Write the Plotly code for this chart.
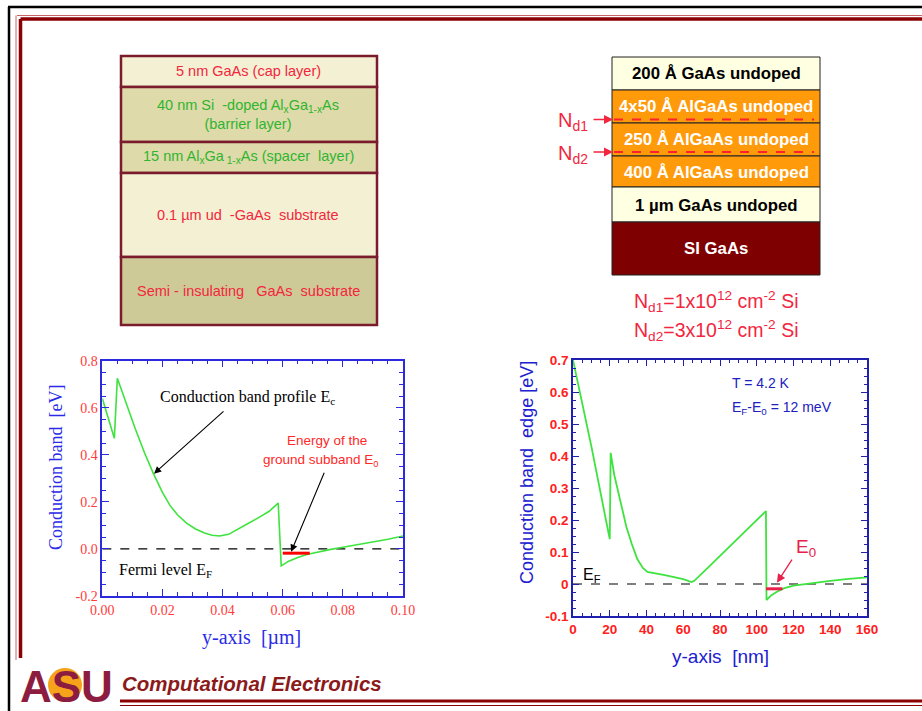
import plotly.graph_objects as go

W, H = 922, 711

# ---------------- data ----------------
# left plot: conduction band profile (x in um, E in eV)
left_x = [0.0, 0.004, 0.005, 0.008, 0.011, 0.014, 0.017, 0.020, 0.0225, 0.025, 0.028, 0.031,
          0.034, 0.0365, 0.039, 0.042, 0.045, 0.048, 0.052, 0.0555, 0.0585, 0.0595, 0.062,
          0.065, 0.068, 0.072, 0.076, 0.080, 0.085, 0.090, 0.095, 0.100]
left_y = [0.64, 0.47, 0.725, 0.615, 0.51, 0.41, 0.32, 0.24, 0.185, 0.145, 0.11, 0.085,
          0.068, 0.058, 0.055, 0.062, 0.082, 0.105, 0.133, 0.16, 0.195, -0.072, -0.052,
          -0.036, -0.024, -0.012, -0.002, 0.007, 0.018, 0.029, 0.041, 0.055]
left_fermi_x = [0.0, 0.10]
left_fermi_y = [0.0, 0.0]
left_e0_x = [0.0600, 0.0690]
left_e0_y = [-0.018, -0.018]
left_xticks = [0.0, 0.02, 0.04, 0.06, 0.08, 0.10]
left_xticktext = ["0.00", "0.02", "0.04", "0.06", "0.08", "0.10"]
left_yticks = [-0.2, 0.0, 0.2, 0.4, 0.6, 0.8]
left_yticktext = ["-0.2", "0.0", "0.2", "0.4", "0.6", "0.8"]

# right plot: conduction band edge (x in nm, E in eV)
right_x = [0, 10, 20, 20.5, 22.5, 25, 27, 29, 32, 35, 38, 40.5, 50, 60, 64.5, 66, 75, 85, 95,
           105, 105.3, 108, 111, 115, 120, 130, 140, 150, 160]
right_y = [0.70, 0.43, 0.14, 0.41, 0.34, 0.275, 0.225, 0.18, 0.125, 0.078, 0.05, 0.038, 0.028,
           0.015, 0.006, 0.01, 0.06, 0.115, 0.17, 0.228, -0.05, -0.035, -0.024, -0.013,
           -0.005, 0.003, 0.01, 0.016, 0.021]
right_fermi_x = [0, 160]
right_fermi_y = [0, 0]
right_e0_x = [105, 114]
right_e0_y = [-0.015, -0.015]
right_xticks = [0, 20, 40, 60, 80, 100, 120, 140, 160]
right_xticktext = ["0", "20", "40", "60", "80", "100", "120", "140", "160"]
right_yticks = [-0.1, 0, 0.1, 0.2, 0.3, 0.4, 0.5, 0.6, 0.7]
right_yticktext = ["-0.1", "0", "0.1", "0.2", "0.3", "0.4", "0.5", "0.6", "0.7"]

# layer stacks
left_layer_labels = [
    "5 nm GaAs (cap layer)",
    "40 nm Si  -doped Al<sub>x</sub>Ga<sub>1-x</sub>As<br>(barrier layer)",
    "15 nm Al<sub>x</sub>Ga<sub> 1-x</sub>As (spacer  layer)",
    "0.1 \u00b5m ud  -GaAs  substrate",
    "Semi - insulating   GaAs  substrate",
]
left_layer_fill = ["#F3F0D3", "#DEDAAA", "#DEDAAA", "#F3F0D3", "#CECA97"]
left_layer_text = ["#F2263E", "#2FB52F", "#2FB52F", "#F2263E", "#F2263E"]

right_layer_labels = [
    "200 \u00c5 GaAs undoped",
    "4x50 \u00c5 AlGaAs undoped",
    "250 \u00c5 AlGaAs undoped",
    "400 \u00c5 AlGaAs undoped",
    "1 \u00b5m GaAs undoped",
    "SI GaAs",
]
right_layer_fill = ["#FFFFE1", "#FF9A0A", "#FF9A0A", "#FF9A0A", "#FFFFE1", "#7E0000"]
right_layer_text = ["black", "white", "white", "white", "black", "white"]

# ---------------- layout geometry (pixels) ----------------
def px(x):
    return x / W

def py(y):
    return 1 - y / H

SERIF = "Liberation Serif"
SANS = "Liberation Sans"
BLUE_L = "#2B2BDD"
BLUE_R = "#2020B0"
RED_T = "#FF3B3B"
GREEN = "#3FE33F"

fig = go.Figure()

# traces, left plot
fig.add_trace(go.Scatter(x=left_fermi_x, y=left_fermi_y, mode="lines",
                         line=dict(color="black", width=1.2, dash="dash"),
                         xaxis="x", yaxis="y", showlegend=False))
fig.add_trace(go.Scatter(x=left_x, y=left_y, mode="lines",
                         line=dict(color=GREEN, width=1.6),
                         xaxis="x", yaxis="y", showlegend=False))
fig.add_trace(go.Scatter(x=left_e0_x, y=left_e0_y, mode="lines",
                         line=dict(color="#FF0000", width=3),
                         xaxis="x", yaxis="y", showlegend=False))
# traces, right plot
fig.add_trace(go.Scatter(x=right_fermi_x, y=right_fermi_y, mode="lines",
                         line=dict(color="black", width=1.2, dash="dash"),
                         xaxis="x2", yaxis="y2", showlegend=False))
fig.add_trace(go.Scatter(x=right_x, y=right_y, mode="lines",
                         line=dict(color=GREEN, width=1.8),
                         xaxis="x2", yaxis="y2", showlegend=False))
fig.add_trace(go.Scatter(x=right_e0_x, y=right_e0_y, mode="lines",
                         line=dict(color="#E8204A", width=3),
                         xaxis="x2", yaxis="y2", showlegend=False))

# axes
L_left, L_right, L_top, L_bot = 102.3, 403, 360.7, 596
R_left, R_right, R_top, R_bot = 573, 867, 360, 616

common = dict(showgrid=False, zeroline=False, showline=True, ticks="inside", mirror="ticks",
              automargin=False)
fig.update_layout(
    xaxis=dict(domain=[px(L_left), px(L_right)], range=[0, 0.1], anchor="y",
               tickvals=left_xticks, ticktext=left_xticktext, linecolor=BLUE_L, linewidth=1.5,
               tickcolor=BLUE_L, ticklen=7, tickwidth=1.3,
               minor=dict(dtick=0.005, ticks="inside", ticklen=4, tickcolor=BLUE_L, tickwidth=1.2),
               tickfont=dict(family=SERIF, size=14, color=RED_T), **common),
    yaxis=dict(domain=[py(L_bot), py(L_top)], range=[-0.2, 0.8], anchor="x",
               tickvals=left_yticks, ticktext=left_yticktext, linecolor=BLUE_L, linewidth=1.5,
               tickcolor=BLUE_L, ticklen=7, tickwidth=1.3,
               minor=dict(dtick=0.05, ticks="inside", ticklen=4, tickcolor=BLUE_L, tickwidth=1.2),
               tickfont=dict(family=SERIF, size=14, color=RED_T), **common),
    xaxis2=dict(domain=[px(R_left), px(R_right)], range=[0, 160], anchor="y2",
                tickvals=right_xticks, ticktext=right_xticktext, linecolor=BLUE_R, linewidth=1.5,
                tickcolor=BLUE_R, ticklen=6, tickwidth=1.2,
                minor=dict(dtick=5, ticks="inside", ticklen=3, tickcolor=BLUE_R, tickwidth=1),
                tickfont=dict(family=SANS, size=13.5, color="#FF2020", weight="bold"), **common),
    yaxis2=dict(domain=[py(R_bot), py(R_top)], range=[-0.1, 0.7], anchor="x2",
                tickvals=right_yticks, ticktext=right_yticktext, linecolor=BLUE_R, linewidth=1.5,
                tickcolor=BLUE_R, ticklen=6, tickwidth=1.2,
                minor=dict(dtick=0.025, ticks="inside", ticklen=3, tickcolor=BLUE_R, tickwidth=1),
                tickfont=dict(family=SANS, size=13.5, color="#FF2020", weight="bold"), **common),
)

shapes = []
annots = []

def line(x0, y0, x1, y1, color, width, dash=None):
    d = dict(type="line", xref="paper", yref="paper", x0=px(x0), y0=py(y0), x1=px(x1), y1=py(y1),
             line=dict(color=color, width=width))
    if dash:
        d["line"]["dash"] = dash
    shapes.append(d)

def text(x, y, s, size, color, family=SANS, xanchor="center", yanchor="middle", angle=0):
    annots.append(dict(xref="paper", yref="paper", x=px(x), y=py(y), text=s, showarrow=False,
                       xanchor=xanchor, yanchor=yanchor, textangle=angle,
                       font=dict(family=family, size=size, color=color)))

# slide frame
line(8, 7, 922, 7, "black", 2.5)
line(9, 7, 9, 711, "black", 2.5)
line(17, 15.5, 922, 15.5, "#C86464", 1)
line(16, 15.5, 16, 660, "#C86464", 1)
line(20.5, 19, 922, 19, "#8B0000", 3.5)
line(20.5, 19, 20.5, 658, "#8B0000", 3.5)
line(120, 701, 922, 701, "#8B0000", 3)
line(120, 705.5, 922, 705.5, "#8B0000", 1.2)

# left layer stack
left_edges = [56, 87, 142, 173, 257, 325]
for i, lab in enumerate(left_layer_labels):
    shapes.append(dict(type="rect", xref="paper", yref="paper",
                       x0=px(121), x1=px(377), y0=py(left_edges[i]), y1=py(left_edges[i + 1]),
                       fillcolor=left_layer_fill[i], line=dict(color="#7B1C2C", width=2.5)))
    yc = (left_edges[i] + left_edges[i + 1]) / 2
    text(248, yc, lab, 14.5, left_layer_text[i])

# right layer stack
right_edges = [57, 90, 123, 156, 187, 222, 275]
for i, lab in enumerate(right_layer_labels):
    shapes.append(dict(type="rect", xref="paper", yref="paper",
                       x0=px(612), x1=px(820), y0=py(right_edges[i]), y1=py(right_edges[i + 1]),
                       fillcolor=right_layer_fill[i], line=dict(color="#222222", width=1)))
    yc = (right_edges[i] + right_edges[i + 1]) / 2
    text(716, yc + 0.5, "<b>" + lab + "</b>", 16.8, right_layer_text[i])

# delta-doping planes
for yy, lab in [(119.5, "N<sub>d1</sub>"), (152, "N<sub>d2</sub>")]:
    line(614, yy, 814, yy, "#FF2030", 2, dash="dash")
    text(556, yy + 2, lab, 20, "#F2263E", xanchor="left")
    annots.append(dict(xref="paper", yref="paper", x=px(613), y=py(yy), ax=-21, ay=0,
                       axref="pixel", ayref="pixel", text="", showarrow=True, arrowhead=2,
                       arrowsize=1.2, arrowwidth=1.5, arrowcolor="#F2263E"))

text(716, 301, "N<sub>d1</sub>=1x10<sup>12</sup> cm<sup>-2</sup> Si", 19.5, "#F2263E")
text(716, 331, "N<sub>d2</sub>=3x10<sup>12</sup> cm<sup>-2</sup> Si", 19.5, "#F2263E")

# left plot labels
text(56, 468, "Conduction band  [eV]", 18, "#2A2AE8", family=SERIF, angle=-90)
text(251, 637, "y-axis  [\u00b5m]", 20, "#2A2AE8", family=SERIF)
text(247, 397, "Conduction band profile E<sub>c</sub>", 16, "black", family=SERIF)
text(117, 570, "Fermi level E<sub>F</sub>", 16, "black", family=SERIF, xanchor="left")
text(327, 440, "Energy of the", 13.5, "#FF2828")
text(321, 460, "ground subband E<sub>0</sub>", 13.5, "#FF2828")
annots.append(dict(xref="x", yref="y", x=0.0172, y=0.32, ax=0.0408, ay=0.59, axref="x", ayref="y",
                   text="", showarrow=True, arrowhead=2, arrowsize=1.3, arrowwidth=1.1,
                   arrowcolor="black"))
annots.append(dict(xref="x", yref="y", x=0.0628, y=-0.012, ax=0.074, ay=0.33, axref="x", ayref="y",
                   text="", showarrow=True, arrowhead=2, arrowsize=1.3, arrowwidth=1.1,
                   arrowcolor="black"))

# right plot labels
text(527, 473, "Conduction band  edge [eV]", 18, "#2020D0", angle=-90)
text(720, 656, "y-axis  [nm]", 19, "#2020D0")
text(730, 383, "T = 4.2 K", 14, "#2020C0", xanchor="left")
text(730, 408, "E<sub>F</sub>-E<sub>0</sub> = 12 meV", 14, "#2020C0", xanchor="left")
text(581, 575, "E<sub>F</sub>", 16, "black", xanchor="left")
text(794, 548, "E<sub>0</sub>", 19, "#E8204A", xanchor="left")
annots.append(dict(xref="x2", yref="y2", x=111, y=0.004, ax=119.7, ay=0.081, axref="x2", ayref="y2",
                   text="", showarrow=True, arrowhead=2, arrowsize=1.3, arrowwidth=1.3,
                   arrowcolor="#E8204A"))

# footer: logo + title
shapes.append(dict(type="circle", xref="paper", yref="paper", x0=px(48), x1=px(82),
                   y0=py(702), y1=py(668), fillcolor="#F7A21B", line=dict(width=0)))
text(66, 686, "<b>ASU</b>", 44, "#8C1D40", family=SANS)
text(120, 683, "<b><i>Computational Electronics</i></b>", 20.5, "#8B1A1A", xanchor="left")

fig.update_layout(width=W, height=H, margin=dict(l=0, r=0, t=0, b=0, pad=0),
                  paper_bgcolor="white", plot_bgcolor="white",
                  shapes=shapes, annotations=annots, showlegend=False)

fig.write_html("out.html", config={"displayModeBar": False},
               post_script="document.body.style.margin='0px';document.body.style.overflow='hidden';")
